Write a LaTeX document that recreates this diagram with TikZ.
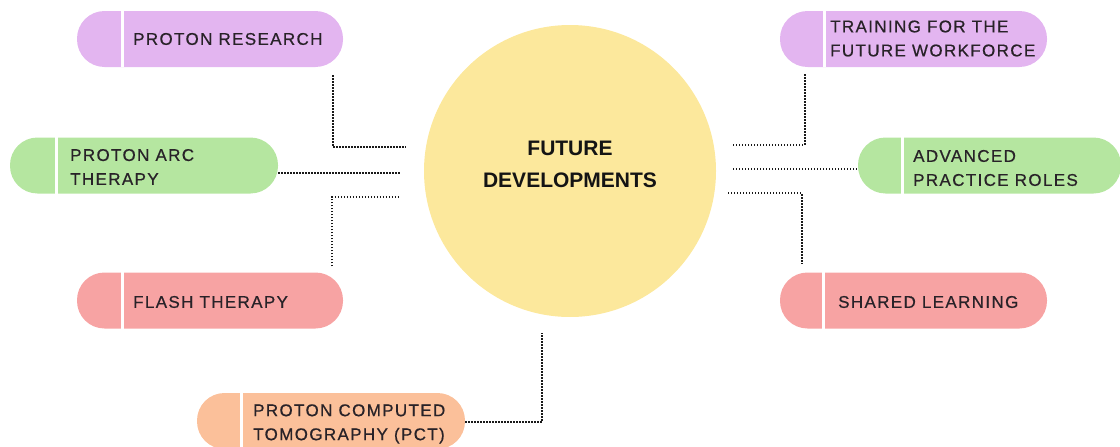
\documentclass[tikz,border=0pt]{standalone}
\usepackage{fontspec}
\setmainfont{Liberation Sans}
\newfontfamily\pillfont[LetterSpace=8,FakeBold=0.6]{Liberation Sans}
\definecolor{purp}{HTML}{E3B5F0}
\definecolor{grn}{HTML}{B5E6A0}
\definecolor{pnk}{HTML}{F7A3A3}
\definecolor{orng}{HTML}{FBC09A}
\definecolor{yel}{HTML}{FCE89C}
\definecolor{ink}{HTML}{282228}
\tikzset{
  pill/.style={rectangle, rounded corners=27.5pt, minimum height=56pt, inner sep=0pt, draw=none},
  lbl/.style={anchor=west, align=left, font=\pillfont\fontsize{17}{24}\selectfont, text=ink, inner sep=0pt},
  dots/.style={line width=2.4pt, dash pattern=on 1.4pt off 1.6pt, black!90},
  divider/.style={white, line width=3pt}
}
\begin{document}
\begin{tikzpicture}[x=1pt,y=-1pt]
\useasboundingbox (0,0) rectangle (1120,447);
% centre
\node[circle, fill=yel, minimum size=292pt, inner sep=0pt] (fd) at (570,171) {};
\node[align=center, font=\bfseries\fontsize{21}{32}\selectfont, text=black!92] (fdt) at (570,164) {FUTURE\\DEVELOPMENTS};
% pills
\node[pill, fill=purp, minimum width=266pt] (pr) at (210,39) {};
\node[pill, fill=purp, minimum width=267pt] (tr) at (913.5,39) {};
\node[pill, fill=grn, minimum width=268pt] (pa) at (144,165.5) {};
\node[pill, fill=grn, minimum width=263pt] (ap) at (989.5,165.5) {};
\node[pill, fill=pnk, minimum width=266pt] (fl) at (210,300.5) {};
\node[pill, fill=pnk, minimum width=267pt] (sl) at (913.5,300.5) {};
\node[pill, fill=orng, minimum width=268pt] (pct) at (331,421) {};
% dividers
\foreach \n/\d in {pr/46,tr/45,pa/47,ap/45,fl/46,sl/44,pct/45}
  \draw[divider] ([xshift=\d pt]\n.north west) -- ([xshift=\d pt]\n.south west);
% labels
\node[lbl] (prt) at (133,39) {PROTON RESEARCH};
\node[lbl] (trt) at (830,38.5) {TRAINING FOR THE\\FUTURE WORKFORCE};
\node[lbl] (pat) at (70,167) {PROTON ARC\\THERAPY};
\node[lbl] (apt) at (913,168) {ADVANCED\\PRACTICE ROLES};
\node[lbl] (flt) at (133,302) {FLASH THERAPY};
\node[lbl] (slt) at (838,302) {SHARED LEARNING};
\node[lbl] (pctt) at (253,424) {PROTON COMPUTED\\TOMOGRAPHY (PCT)};
% connector ends
\coordinate (e1) at (406,147);
\coordinate (e2) at (400,173);
\coordinate (e3) at (400,197);
\coordinate (e4) at (542,333);
\coordinate (e5) at (733,145);
\coordinate (e6) at (733,169);
\coordinate (e7) at (728,193);
% connectors
\draw[dots] ([xshift=-10pt,yshift=-8pt]pr.south east) |- (e1);
\draw[dots] (pa.east |- e2) -- (e2);
\draw[dots] ([xshift=-11pt,yshift=6pt]fl.north east) |- (e3);
\draw[dots] ([yshift=-1pt]pct.east) -| (e4);
\draw[dots] (e5) -| ([xshift=25pt,yshift=-6pt]tr.south west);
\draw[dots] (e6) -- (ap.west |- e6);
\draw[dots] (e7) -| ([xshift=22pt,yshift=8pt]sl.north west);
\end{tikzpicture}
\end{document}
